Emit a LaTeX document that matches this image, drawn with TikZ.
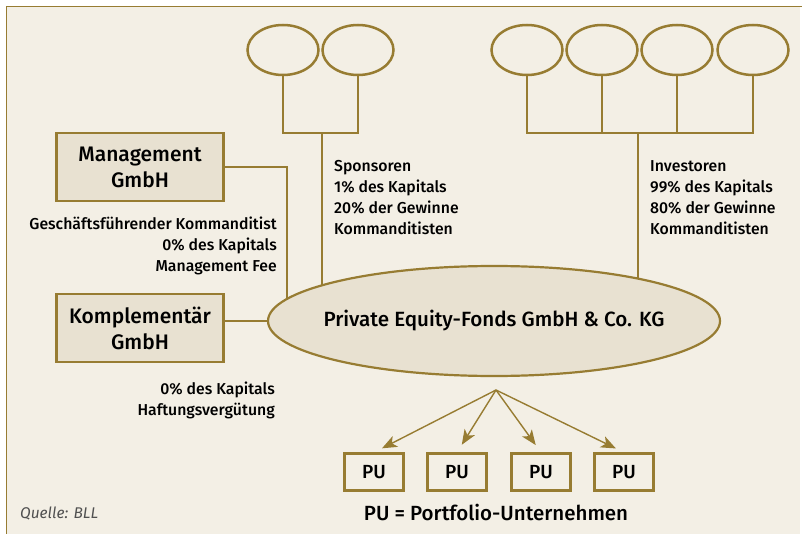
\documentclass[tikz,border=0pt]{standalone}
\usepackage{fontspec}
\setmainfont{Fira Sans}[UprightFont={* Medium},ItalicFont={* Italic}]
\usetikzlibrary{shapes.geometric,arrows.meta,backgrounds}
\definecolor{gold}{RGB}{151,124,50}
\definecolor{paper}{RGB}{243,239,229}
\definecolor{boxfill}{RGB}{232,225,209}
\definecolor{quelle}{RGB}{80,80,80}
\begin{document}
\begin{tikzpicture}[x=1pt,y=-1pt,
  party/.style={rectangle,draw=gold,fill=boxfill,line width=2.2pt,minimum width=167pt,minimum height=68pt,align=center,font=\fontsize{21}{26}\selectfont},
  fonds/.style={ellipse,draw=gold,fill=boxfill,line width=2.2pt,minimum width=452pt,minimum height=110pt,inner sep=0pt},
  holder/.style={ellipse,draw=gold,fill=paper,line width=2.5pt,minimum width=71pt,minimum height=50pt,inner sep=0pt},
  pu/.style={rectangle,draw=gold,fill=paper,line width=2.2pt,minimum width=59pt,minimum height=37pt,inner sep=0pt,font=\fontsize{19}{22}\selectfont},
  info/.style={inner sep=0pt,font=\fontsize{15.8}{21}\selectfont},
  link/.style={draw=gold,line width=1.3pt},
  fan/.style={draw=gold,line width=1.4pt,-{Stealth[length=15pt,width=12pt,inset=4pt]},shorten >=9pt}]

  \useasboundingbox (0,0) rectangle (802,534);

  % beteiligte
  \node[party] at (140,167)  (mgmt)   {Management\\GmbH} ;
  \node[party] at (140,328)  (kompl)  {Komplementär\\GmbH} ;
  \node[fonds] at (494,321)  (fonds)  {} ;
  \node[inner sep=0pt,font=\fontsize{20.6}{24}\selectfont] at (fonds.center) (fondsname)
    {Private Equity-Fonds GmbH \& Co. KG} ;

  \node[holder] at (283,50)  (spon1)  {} ;
  \node[holder] at (358,50)  (spon2)  {} ;
  \node[holder] at (527,50)  (inv1)   {} ;
  \node[holder] at (602,50)  (inv2)   {} ;
  \node[holder] at (677,50)  (inv3)   {} ;
  \node[holder] at (753,50)  (inv4)   {} ;

  \node[pu] at (374,472) (pu1) {PU} ;
  \node[pu] at (457,472) (pu2) {PU} ;
  \node[pu] at (541,472) (pu3) {PU} ;
  \node[pu] at (624,472) (pu4) {PU} ;

  \coordinate (sponjoin) at (322,133) ;
  \coordinate (invjoin)  at (638,133) ;
  \coordinate (mgmtdrop) at (287,321) ;
  \coordinate (fanpoint) at (496,390) ;

  % texte
  \node[info,anchor=north west,align=left] at (334,160) (spontext)
    {Sponsoren\\1\% des Kapitals\\20\% der Gewinne\\Kommanditisten} ;
  \node[info,anchor=north west,align=left] at (650,160) (invtext)
    {Investoren\\99\% des Kapitals\\80\% der Gewinne\\Kommanditisten} ;
  \node[info,anchor=north east,align=right] at (277,217) (mgmttext)
    {Geschäftsführender Kommanditist\\0\% des Kapitals\\Management Fee} ;
  \node[info,anchor=north east,align=right] at (275,382) (kompltext)
    {0\% des Kapitals\\Haftungsvergütung} ;
  \node[inner sep=0pt,font=\fontsize{20.5}{24}\selectfont] at (496,512) (legend)
    {PU = Portfolio-Unternehmen} ;
  \node[inner sep=0pt,anchor=west,text=quelle,font=\fontsize{15.5}{20}\selectfont\itshape] at (20,513) (source)
    {Quelle: BLL} ;

  \begin{pgfonlayer}{background}
    \fill[paper] (6.5,6.5) rectangle (800,534) ;
    \draw[gold,line width=1.5pt] (6.5,534) -- (6.5,6.5) -- (802,6.5) ;

    \draw[link] (spon1.south) |- (sponjoin) -| (spon2.south) ;
    \draw[link] (sponjoin) -- (sponjoin |- fonds.center) ;
    \draw[link] (inv1.south) |- (invjoin) -| (inv4.south) ;
    \draw[link] (inv2.south) -- (inv2.south |- invjoin) ;
    \draw[link] (inv3.south) -- (inv3.south |- invjoin) ;
    \draw[link] (invjoin) -- (invjoin |- fonds.center) ;
    \draw[link] (mgmt.east) -| (mgmtdrop) ;
    \draw[link] (kompl.east |- fonds.west) -- (fonds.west) ;
  \end{pgfonlayer}

  \draw[fan] (fanpoint) -- (pu1.north) ;
  \draw[fan] (fanpoint) -- (pu2.north) ;
  \draw[fan] (fanpoint) -- (pu3.north) ;
  \draw[fan] (fanpoint) -- (pu4.north) ;

\end{tikzpicture}
\end{document}
